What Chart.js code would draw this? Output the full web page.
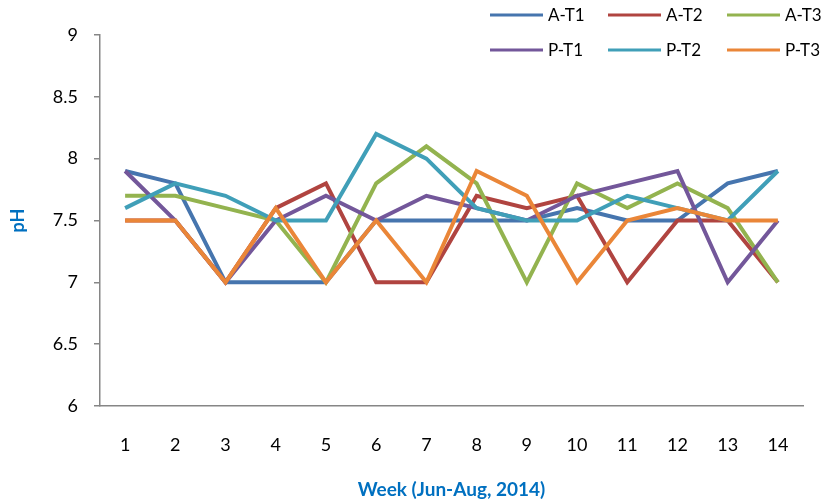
<!DOCTYPE html>
<html>
<head>
<meta charset="utf-8">
<script src="https://cdn.jsdelivr.net/npm/chart.js@4/dist/chart.umd.min.js"></script>
<style>
  html, body { margin: 0; padding: 0; background: #fff; }
  #wrap { width: 826px; height: 502px; position: relative; }
</style>
</head>
<body>
<div id="wrap"><canvas id="phChart"></canvas></div>
<script>
// Weeks on the x axis
const weeks = ["1", "2", "3", "4", "5", "6", "7", "8", "9", "10", "11", "12", "13", "14"];

// pH readings per series
const aT1 = [7.9, 7.8, 7.0, 7.0, 7.0, 7.5, 7.5, 7.5, 7.5, 7.6, 7.5, 7.5, 7.8, 7.9];
const aT2 = [7.5, 7.5, 7.0, 7.6, 7.8, 7.0, 7.0, 7.7, 7.6, 7.7, 7.0, 7.5, 7.5, 7.0];
const aT3 = [7.7, 7.7, 7.6, 7.5, 7.0, 7.8, 8.1, 7.8, 7.0, 7.8, 7.6, 7.8, 7.6, 7.0];
const pT1 = [7.9, 7.5, 7.0, 7.5, 7.7, 7.5, 7.7, 7.6, 7.5, 7.7, 7.8, 7.9, 7.0, 7.5];
const pT2 = [7.6, 7.8, 7.7, 7.5, 7.5, 8.2, 8.0, 7.6, 7.5, 7.5, 7.7, 7.6, 7.5, 7.9];
const pT3 = [7.5, 7.5, 7.0, 7.6, 7.0, 7.5, 7.0, 7.9, 7.7, 7.0, 7.5, 7.6, 7.5, 7.5];

const seriesNames = ["A-T1", "A-T2", "A-T3", "P-T1", "P-T2", "P-T3"];
const seriesData = [aT1, aT2, aT3, pT1, pT2, pT3];
const seriesColors = ["#4675AE", "#B04440", "#93B34F", "#73579A", "#409FB8", "#EA8638"];

const FONT = "Lato, 'Open Sans', sans-serif";

// Legend drawn in two rows of three, top right
const gridLegend = {
  id: "gridLegend",
  afterDraw(chart) {
    const ctx = chart.ctx;
    const cols = [490, 608, 727];
    const rows = [15, 50];
    ctx.save();
    ctx.font = "17px " + FONT;
    ctx.textBaseline = "middle";
    ctx.textAlign = "left";
    chart.data.datasets.forEach(function (ds, i) {
      const x = cols[i % 3];
      const y = rows[Math.floor(i / 3)];
      ctx.strokeStyle = ds.borderColor;
      ctx.lineWidth = 3;
      ctx.beginPath();
      ctx.moveTo(x, y);
      ctx.lineTo(x + 53, y);
      ctx.stroke();
      ctx.fillStyle = "#000";
      ctx.fillText(ds.label, x + 58, y + 1);
    });
    ctx.restore();
  },
};

const datasets = seriesNames.map(function (name, i) {
  return {
    label: name,
    data: seriesData[i],
    borderColor: seriesColors[i],
    backgroundColor: seriesColors[i],
    borderWidth: 4,
    pointRadius: 0,
    tension: 0,
    order: seriesNames.length - i,
  };
});

new Chart(document.getElementById("phChart"), {
  type: "line",
  data: { labels: weeks, datasets: datasets },
  plugins: [gridLegend],
  options: {
    responsive: true,
    maintainAspectRatio: false,
    animation: false,
    layout: { padding: { top: 35, right: 23, bottom: 0, left: 0 } },
    plugins: {
      legend: { display: false },
      tooltip: { enabled: false },
    },
    scales: {
      x: {
        offset: true,
        grid: { display: false, drawTicks: false },
        border: { display: true, color: "#868686", width: 1.5 },
        ticks: { color: "#000", font: { family: FONT, size: 18 }, padding: 28 },
        title: {
          display: true,
          text: "Week (Jun-Aug, 2014)",
          color: "#0070C0",
          font: { family: FONT, size: 19, weight: "bold" },
          padding: { top: 4, bottom: 1 },
        },
        afterFit(scale) { scale.height = 96; },
      },
      y: {
        min: 6,
        max: 9,
        ticks: {
          stepSize: 0.5,
          color: "#000",
          font: { family: FONT, size: 18 },
          padding: 16,
          callback: function (v) { return String(v); },
        },
        grid: { drawOnChartArea: false, drawTicks: true, tickLength: 6, color: "#868686", lineWidth: 1.5 },
        border: { display: true, color: "#868686", width: 1.5 },
        title: {
          display: true,
          text: "pH",
          color: "#0070C0",
          font: { family: FONT, size: 18, weight: "bold" },
          padding: { top: 7, bottom: 0 },
        },
        afterFit(scale) { scale.width = 100; },
      },
    },
  },
});
</script>
</body>
</html>
